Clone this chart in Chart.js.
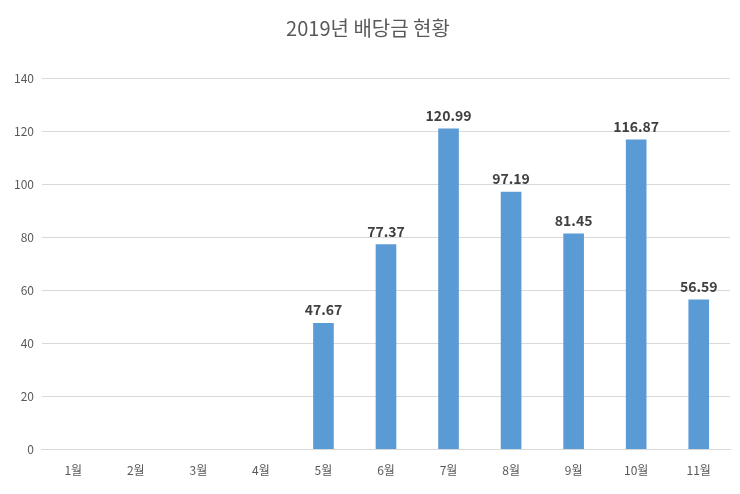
<!DOCTYPE html>
<html>
<head>
<meta charset="utf-8">
<script src="https://cdn.jsdelivr.net/npm/chart.js@4"></script>
<style>
  html, body { margin: 0; padding: 0; background: #fff; }
  #wrap { width: 740px; height: 494px; }
</style>
</head>
<body>
<div id="wrap"><canvas id="chart"></canvas></div>
<script>
const months = ['1월', '2월', '3월', '4월', '5월', '6월', '7월', '8월', '9월', '10월', '11월'];
const dividends = [null, null, null, null, 47.67, 77.37, 120.99, 97.19, 81.45, 116.87, 56.59];
const FONT = "'Noto Sans CJK KR', 'Noto Sans', sans-serif";

// simple value labels above bars
const barLabels = {
  id: 'barLabels',
  afterDatasetsDraw(chart) {
    const ctx = chart.ctx;
    const meta = chart.getDatasetMeta(0);
    ctx.save();
    ctx.font = `bold 14px ${FONT}`;
    ctx.fillStyle = '#404040';
    ctx.textAlign = 'center';
    ctx.textBaseline = 'bottom';
    meta.data.forEach((bar, i) => {
      const v = dividends[i];
      if (v == null) return;
      ctx.fillText(v.toFixed(2), bar.x, bar.y - 6);
    });
    ctx.restore();
  }
};

new Chart(document.getElementById('chart'), {
  type: 'bar',
  plugins: [barLabels],
  data: {
    labels: months,
    datasets: [{
      data: dividends,
      backgroundColor: '#5b9bd5',
      barPercentage: 0.33,
      categoryPercentage: 1,
    }],
  },
  options: {
    responsive: true,
    maintainAspectRatio: false,
    animation: false,
    layout: { padding: { left: 6, right: 10, top: 0, bottom: 10 } },
    plugins: {
      legend: { display: false },
      tooltip: { enabled: false },
      title: {
        display: true,
        text: '2019년 배당금 현황',
        color: '#595959',
        font: { family: FONT, size: 20, weight: 'normal' },
        padding: { top: 16, bottom: 38 },
      },
    },
    scales: {
      x: {
        grid: { display: false },
        border: { color: '#d9d9d9' },
        ticks: { color: '#595959', font: { family: FONT, size: 12 }, padding: 6 },
      },
      y: {
        min: 0,
        max: 140,
        ticks: { stepSize: 20, color: '#595959', font: { family: FONT, size: 12 }, padding: 8 },
        grid: { color: '#d9d9d9', drawTicks: false },
        border: { display: false },
      },
    },
  },
});
</script>
</body>
</html>
